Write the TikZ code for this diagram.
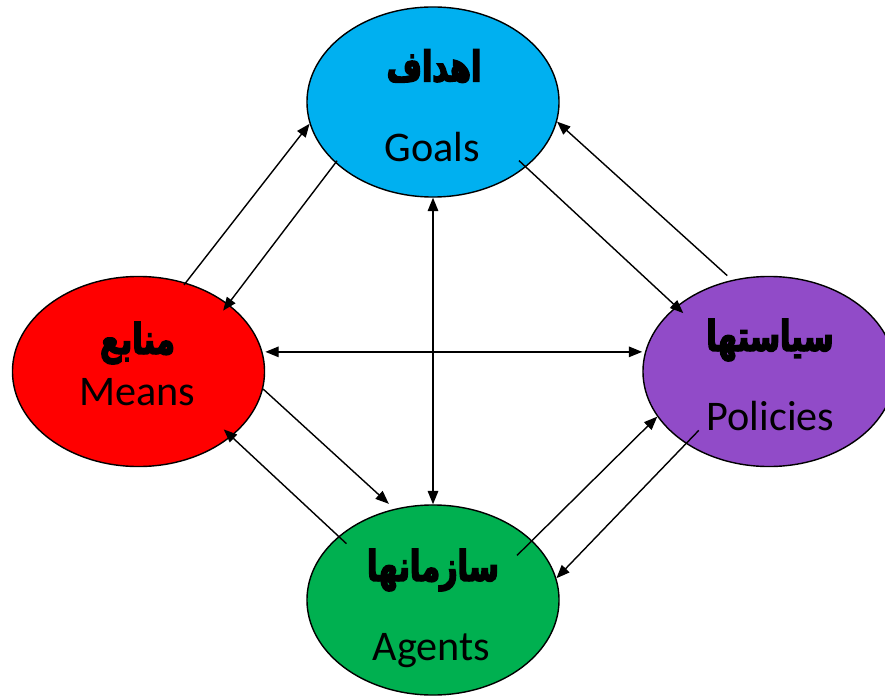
\documentclass[tikz,border=0pt]{standalone}
\usepackage{fontspec}
\setmainfont{Carlito}
\newfontfamily\persianfont[Script=Arabic, FakeStretch=0.72, BoldFeatures={FakeBold=3.5}]{DejaVu Sans}
\TeXXeTstate=1
\usetikzlibrary{positioning,shapes.geometric,arrows.meta}
\definecolor{goalblue}{HTML}{00B0F0}
\definecolor{meanred}{HTML}{FF0000}
\definecolor{policypurple}{HTML}{914BC8}
\definecolor{agentgreen}{HTML}{00B050}
\newcommand{\fatxt}[1]{{\persianfont\bfseries\beginR #1\endR}}

\begin{document}
\begin{tikzpicture}[x=0.025cm, y=-0.025cm,
ovalnode/.style={ellipse, draw=black, line width=1pt, minimum width=6.3cm, minimum height=4.75cm},
arrowline/.style={-{Triangle[length=9.5pt,width=7.5pt]}, line width=1pt},
biline/.style={{Triangle[length=9.5pt,width=7.5pt]}-{Triangle[length=9.5pt,width=7.5pt]}, line width=1pt},
fatext/.style={font=\fontsize{30}{33}\selectfont},
entext/.style={font=\fontsize{30}{34}\selectfont, anchor=base},
]
\useasboundingbox (0,0) rectangle (885,695);
%Nodes
\node[ovalnode, fill=goalblue]     (goals)    at (433,102)   {};
\node[ovalnode, fill=meanred]      (means)    at (138.5,371.5) {};
\node[ovalnode, fill=policypurple] (policies) at (769,371.5)  {};
\node[ovalnode, fill=agentgreen]   (agents)   at (433,600)   {};

%Lines
\draw[arrowline, shorten <=-2pt] (means.62) -- (goals.190);
\draw[arrowline, shorten <=-2pt, shorten >=-6pt] (goals.212) -- (means.37);
\draw[biline, shorten <=2pt, shorten >=2pt] (means.9) -- (policies.171);
\draw[biline] (goals.south) -- (agents.north);
\draw[arrowline, shorten <=-6.8pt, shorten >=-7pt] (goals.325) -- (policies.145);
\draw[arrowline, shorten <=4.6pt] (policies.112) -- (goals.351);
\draw[arrowline, shorten >=5.3pt] (means.352) -- (agents.113);
\draw[arrowline, shorten <=-7.8pt, shorten >=-7.5pt] (agents.146) -- (means.325);
\draw[arrowline, shorten <=-15.2pt] (agents.31) -- (policies.202);
\draw[arrowline, shorten <=-13.2pt] (policies.221) -- (agents.10);

%Text
\node[fatext] (goalsfa)    at (434,66)    {\fatxt{اهداف}};
\node[entext] (goalsen)    at (432.5,162) {Goals};
\node[fatext] (meansfa)    at (137.5,343) {\fatxt{منابع}};
\node[entext] (meansen)    at (137.5,405) {Means};
\node[fatext] (policiesfa) at (770,340)   {\fatxt{سیاستها}};
\node[entext] (policiesen) at (770.5,430) {Policies};
\node[fatext] (agentsfa)   at (433,570)   {\fatxt{سازمانها}};
\node[entext] (agentsen)   at (431.5,660) {Agents};
\end{tikzpicture}
\end{document}
